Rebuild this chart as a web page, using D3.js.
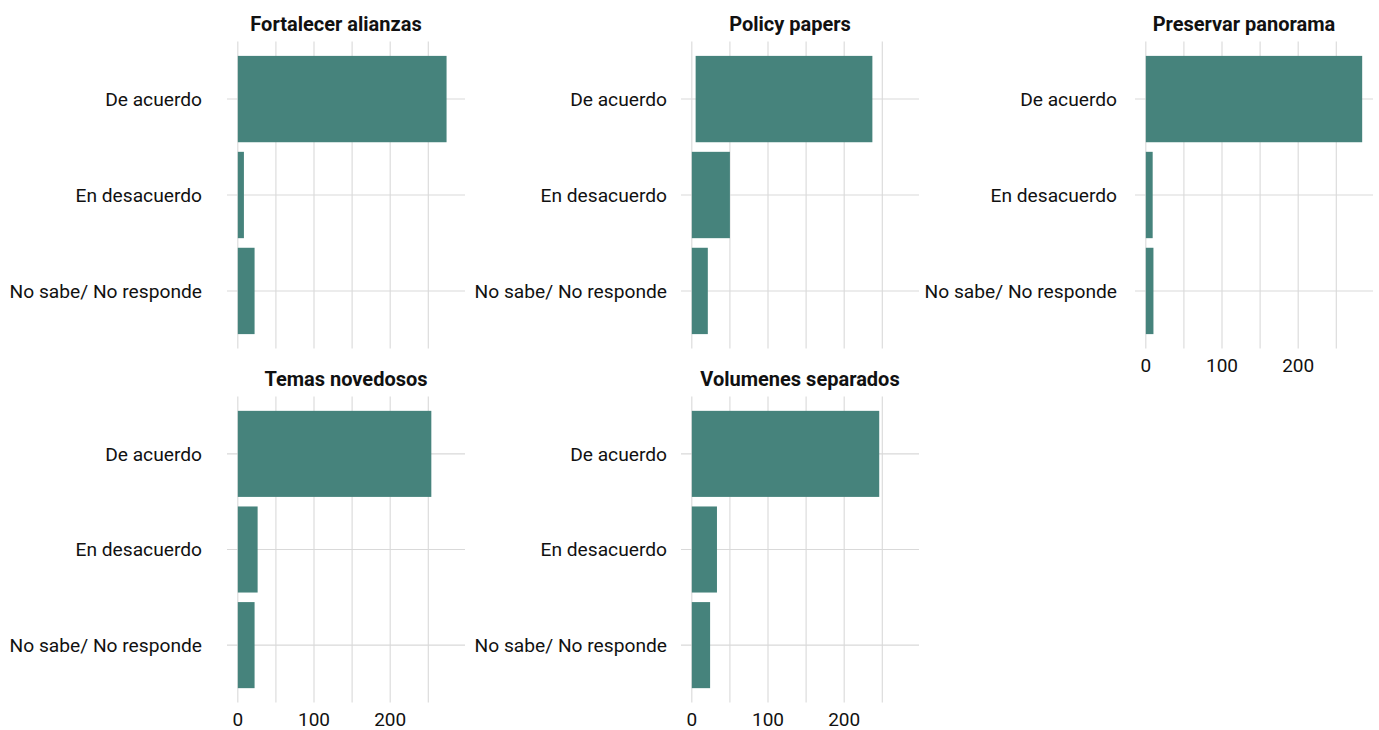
<!DOCTYPE html>
<html><head><meta charset="utf-8">
<script src="https://cdn.jsdelivr.net/npm/d3@7"></script>
<style>body{margin:0;background:#fff}</style>
</head><body>
<svg id="c" width="1379" height="730"></svg>
<script>
const panels = ["Fortalecer alianzas","Policy papers","Preservar panorama","Temas novedosos","Volumenes separados"];
const categories = ["De acuerdo","En desacuerdo","No sabe/ No responde"];
const values = [
  [274, 8, 22],
  [237, 50, 21],
  [284, 9, 10],
  [254, 26, 22],
  [246, 33, 24]
];
const starts = [
  [0,0,0],
  [5,0,0],
  [0,0,0],
  [0,0,0],
  [0,0,0]
];
const xTicks = [0,100,200];
const gridTicks = [0,50,100,150,200,250];

const svg = d3.select("#c");
const font = "Roboto, 'Noto Sans', sans-serif";
const maxV = d3.max(values.flat());
const pw = 238, colX = [227, 681, 1135];
const labelGap = [25, 14, 18];
const titleShift = [-10, 0];
const rowY = [[41.5, 348.5],[396.5, 702.5]];
const x0 = d3.scaleLinear().domain([-0.05*maxV, maxV*1.05]).range([0, pw]);

panels.forEach((name, i) => {
  const col = i % 3, row = Math.floor(i / 3);
  const [top, bot] = rowY[row];
  const g = svg.append("g").attr("transform", `translate(${colX[col]},${top})`);
  const h = bot - top;
  const y = d3.scalePoint().domain(categories).range([0, h]).padding(0.6);
  const bh = y.step() * 0.9;
  // grid
  g.selectAll(".gv").data(gridTicks).join("line")
    .attr("x1", d => x0(d)).attr("x2", d => x0(d)).attr("y1", 0).attr("y2", h)
    .attr("stroke", "#d9d9d9").attr("stroke-width", 1.1);
  g.selectAll(".gh").data(categories).join("line")
    .attr("x1", 0).attr("x2", pw).attr("y1", d => y(d)).attr("y2", d => y(d))
    .attr("stroke", "#d9d9d9").attr("stroke-width", 1.1);
  // bars
  g.selectAll("rect").data(categories).join("rect")
    .attr("x", (c, j) => x0(starts[i][j]))
    .attr("width", (c, j) => x0(values[i][j]) - x0(starts[i][j]))
    .attr("y", c => y(c) - bh/2).attr("height", bh)
    .attr("fill", "#46837c");
  // y labels
  g.selectAll(".yl").data(categories).join("text")
    .attr("x", -labelGap[col]).attr("y", d => y(d)).attr("dy", "0.35em")
    .attr("text-anchor", "end").attr("font-family", font).attr("font-size", 19.2)
    .attr("fill", "#111").text(d => d);
  // title
  g.append("text").attr("x", pw/2 + titleShift[row]).attr("y", -10.5)
    .attr("text-anchor", "middle").attr("font-family", font).attr("font-size", 20)
    .attr("font-weight", "bold").attr("fill", "#111").text(name);
  // x axis labels on bottom panels of each column
  const showX = (row === 1) || (col === 2);
  if (showX) {
    g.selectAll(".xl").data(xTicks).join("text")
      .attr("x", d => x0(d)).attr("y", h + 17).attr("dy", "0.35em")
      .attr("text-anchor", "middle").attr("font-family", font).attr("font-size", 19)
      .attr("fill", "#111").text(d => d);
  }
});
</script>
</body></html>
